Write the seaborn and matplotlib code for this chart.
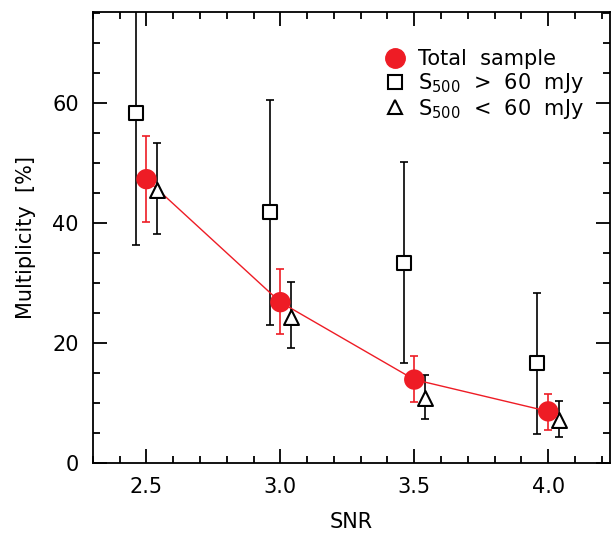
import numpy as np
import pandas as pd
import seaborn as sns
import matplotlib.pyplot as plt
from matplotlib.ticker import MultipleLocator
from matplotlib.lines import Line2D

# SNR thresholds (points are shifted slightly in x per sample)
snr = [2.5, 3.0, 3.5, 4.0]

total = [47.3, 26.8, 13.9, 8.6]
total_hi = [54.5, 32.3, 17.8, 11.5]
total_lo = [40.2, 21.5, 10.1, 5.5]

bright = [58.4, 41.8, 33.4, 16.6]
bright_hi = [80.0, 60.5, 50.1, 28.4]
bright_lo = [36.3, 23.0, 16.6, 4.8]

faint = [45.5, 24.4, 10.8, 7.2]
faint_hi = [53.3, 30.2, 14.7, 10.3]
faint_lo = [38.2, 19.1, 7.3, 4.3]

shift = 0.04

sns.set_theme(style="ticks")
plt.rcParams['font.family'] = ['DejaVu Sans']
plt.rcParams['text.color'] = 'black'
plt.rcParams['axes.labelcolor'] = 'black'

fig = plt.figure(figsize=(6.11, 5.34), dpi=100)
ax = fig.add_axes([0.152, 0.133, 0.846, 0.845])

x = np.array(snr)
df_tot = pd.DataFrame({"SNR": x, "M": total})
df_bri = pd.DataFrame({"SNR": x - shift, "M": bright})
df_fai = pd.DataFrame({"SNR": x + shift, "M": faint})


def draw_err(xs, y, hi, lo, color):
    y = np.array(y)
    err = [y - np.array(lo), np.array(hi) - y]
    ax.errorbar(xs, y, yerr=err, fmt='none', ecolor=color, elinewidth=1.2,
                capsize=3, capthick=1.2, zorder=1)


draw_err(df_bri["SNR"], bright, bright_hi, bright_lo, 'black')
draw_err(df_fai["SNR"], faint, faint_hi, faint_lo, 'black')
draw_err(df_tot["SNR"], total, total_hi, total_lo, '#ee1c25')

sns.lineplot(data=df_tot, x="SNR", y="M", color='#ee1c25', linewidth=1.0, ax=ax, zorder=2)
sns.scatterplot(data=df_bri, x="SNR", y="M", marker='s', s=95, facecolor='white',
                edgecolor='black', linewidth=1.5, ax=ax, zorder=3)
sns.scatterplot(data=df_fai, x="SNR", y="M", marker='^', s=115, facecolor='white',
                edgecolor='black', linewidth=1.5, ax=ax, zorder=3)
sns.scatterplot(data=df_tot, x="SNR", y="M", marker='o', s=215, color='#ee1c25',
                edgecolor='none', ax=ax, zorder=4)

ax.set_xlim(2.3, 4.23)
ax.set_ylim(0, 75.2)
ax.xaxis.set_major_locator(MultipleLocator(0.5))
ax.xaxis.set_minor_locator(MultipleLocator(0.1))
ax.yaxis.set_major_locator(MultipleLocator(20))
ax.yaxis.set_minor_locator(MultipleLocator(5))
ax.xaxis.set_major_formatter(plt.FormatStrFormatter('%.1f'))
ax.tick_params(which='both', direction='in', top=True, right=True, width=1.3,
               labelsize=15, colors='black', pad=10)
ax.tick_params(which='major', length=10)
ax.tick_params(which='minor', length=5)
for s in ax.spines.values():
    s.set_linewidth(1.3)
    s.set_color('black')

ax.set_xlabel("SNR", fontsize=15, labelpad=11)
ax.set_ylabel("Multiplicity  [%]", fontsize=15, labelpad=12)

handles = [
    Line2D([], [], marker='o', color='#ee1c25', linestyle='none', markersize=14),
    Line2D([], [], marker='s', markerfacecolor='white', markeredgecolor='black',
           markeredgewidth=1.5, linestyle='none', markersize=9.5),
    Line2D([], [], marker='^', markerfacecolor='white', markeredgecolor='black',
           markeredgewidth=1.5, linestyle='none', markersize=10.5),
]
labels = ["Total  sample", r"S$_{500}$  >  60  mJy", r"S$_{500}$  <  60  mJy"]
ax.legend(handles, labels, loc='upper right', frameon=False, fontsize=15,
          handlelength=1.2, handletextpad=0.5, labelspacing=0.08, borderaxespad=0.8,
          bbox_to_anchor=(0.998, 0.972))

fig.savefig("out.png", dpi=100)
